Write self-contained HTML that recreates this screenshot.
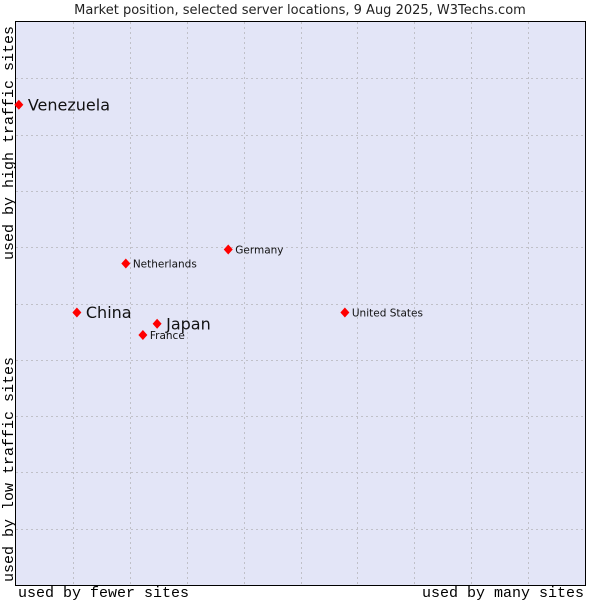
<!DOCTYPE html>
<html><head><meta charset="utf-8"><style>
body{margin:0;background:#fff}
svg{display:block}
</style></head><body>
<svg id="chart" width="600" height="600" xmlns="http://www.w3.org/2000/svg">
<rect x="0" y="0" width="600" height="600" fill="#fff"/>
<text x="300" y="14" text-anchor="middle" font-family="DejaVu Sans, sans-serif" font-size="13" fill="#222">Market position, selected server locations, 9 Aug 2025, W3Techs.com</text>
<rect x="15.5" y="21.5" width="570" height="564" fill="#e3e5f7" stroke="#000"/>
<g id="grid"></g>
<g id="points"></g>
<text x="18" y="597" font-family="Liberation Mono, monospace" font-size="15" fill="#000">used by fewer sites</text>
<text x="584" y="597" text-anchor="end" font-family="Liberation Mono, monospace" font-size="15" fill="#000">used by many sites</text>
<text transform="translate(13,260) rotate(-90)" font-family="Liberation Mono, monospace" font-size="15" fill="#000">used by high traffic sites</text>
<text transform="translate(13,582) rotate(-90)" font-family="Liberation Mono, monospace" font-size="15" fill="#000">used by low traffic sites</text>
</svg>
<script>
const countries=["Venezuela","China","Japan","France","Netherlands","Germany","United States"];
const xValues=[0.5,10.7,24.8,22.3,19.3,37.3,57.8];
const yValues=[85.3,48.4,46.4,44.4,57.1,59.6,48.4];
const bigLabel=[true,true,true,false,false,false,false];
const gridTicks=[10,20,30,40,50,60,70,80,90];
const NS="http://www.w3.org/2000/svg";
const X0=16,X1=585,Y0=585,Y1=22;
function sx(v){return X0+v/100*(X1-X0);}
function sy(v){return Y0-v/100*(Y0-Y1);}
const grid=document.getElementById('grid');
gridTicks.forEach(t=>{
  const v=document.createElementNS(NS,'line');
  v.setAttribute('x1',Math.round(sx(t))+0.5);v.setAttribute('x2',Math.round(sx(t))+0.5);
  v.setAttribute('y1',22);v.setAttribute('y2',585);
  v.setAttribute('stroke','#c0c0c8');v.setAttribute('stroke-dasharray','2,3');
  
  
  grid.appendChild(v);
  const h=document.createElementNS(NS,'line');
  h.setAttribute('y1',Math.round(sy(t))+0.5);h.setAttribute('y2',Math.round(sy(t))+0.5);
  h.setAttribute('x1',16);h.setAttribute('x2',585);
  h.setAttribute('stroke','#c0c0c8');h.setAttribute('stroke-dasharray','2,3');
  
  
  grid.appendChild(h);
});
const pts=document.getElementById('points');
countries.forEach((c,i)=>{
  const x=sx(xValues[i]),y=sy(yValues[i]);
  const d=document.createElementNS(NS,'path');
  d.setAttribute('d',`M${x} ${y-5}L${x+4.5} ${y}L${x} ${y+5}L${x-4.5} ${y}Z`);
  d.setAttribute('fill','#f00');
  
  
  pts.appendChild(d);
  const t=document.createElementNS(NS,'text');
  t.setAttribute('x',x+(bigLabel[i]?9:7));
  t.setAttribute('y',y+(bigLabel[i]?5.5:4));
  t.setAttribute('font-family','DejaVu Sans, sans-serif');
  t.setAttribute('font-size',bigLabel[i]?16:10.5);
  t.setAttribute('fill','#111');
  t.textContent=c;
  
  
  pts.appendChild(t);
});
</script>
</body></html>
